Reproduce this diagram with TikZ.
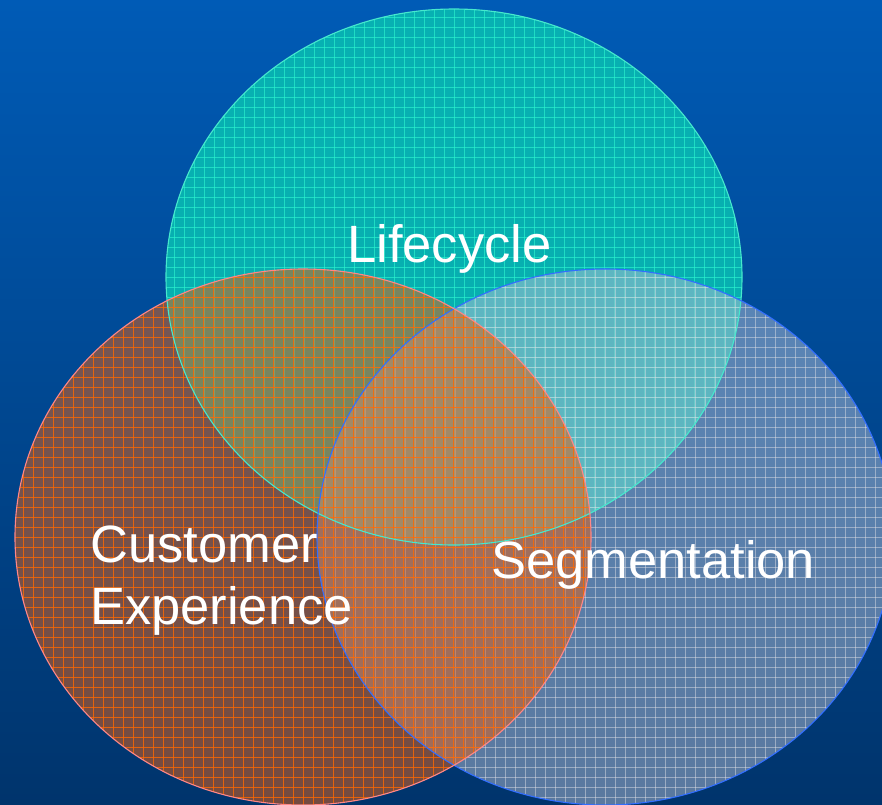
\documentclass[tikz,border=0pt]{standalone}
\usepackage{fontspec}
\setmainfont{Liberation Sans}
\definecolor{bgtop}{RGB}{0,91,182}
\definecolor{bgbot}{RGB}{0,52,108}
\definecolor{lifefill}{RGB}{8,184,178}
\definecolor{lifegrid}{RGB}{40,240,205}
\definecolor{lifeedge}{RGB}{70,232,205}
\definecolor{segfill}{RGB}{180,190,210}
\definecolor{seggrid}{RGB}{220,222,228}
\definecolor{segedge}{RGB}{50,110,255}
\definecolor{cxfill}{RGB}{225,96,24}
\definecolor{cxgrid}{RGB}{255,104,0}
\definecolor{cxedge}{RGB}{255,135,135}
% one set of the diagram: tinted ellipse with a grid texture inside
% #1,#2 centre; #3 fill colour; #4 fill opacity; #5 grid colour; #6 grid opacity
% grid lines are centred on half units, so each covers one pixel column or row
\newcommand\vennset[6]{%
  \fill[#3, fill opacity=#4] (#1,#2) ellipse [x radius=288, y radius=268];
  \begin{scope}
    \clip (#1,#2) ellipse [x radius=288, y radius=268];
    \foreach \k in {0,...,58} {
      \draw[#5, draw opacity=#6, line width=1.4] ({#1-289.5+10*\k},{#2-270}) -- ++(0,540);
      \draw[#5, draw opacity=#6, line width=1.4] ({#1-290},{#2-269.5+10*\k}) -- ++(580,0);
    }
  \end{scope}
}
\tikzset{
  lbl/.style={text=white, inner sep=0pt, font=\fontsize{52.5}{62}\selectfont},
  rim/.style={line width=1.1},
}
\begin{document}
\begin{tikzpicture}[x=1pt,y=-1pt]
  \useasboundingbox (0,0) rectangle (882,804);
  \clip (0,0) rectangle (882,804);
  \shade[top color=bgtop, bottom color=bgbot] (0,0) rectangle (882,804);

  % the three sets, bottom to top
  \vennset{454}{277}{lifefill}{0.92}{lifegrid}{0.7}
  \vennset{605}{537}{segfill}{0.5}{seggrid}{0.5}
  \vennset{303}{537}{cxfill}{0.52}{cxgrid}{0.8}

  % outlines
  \draw[rim, lifeedge] (454,277) ellipse [x radius=288, y radius=268];
  \draw[rim, segedge] (605,537) ellipse [x radius=288, y radius=268];
  \draw[rim, cxedge] (303,537) ellipse [x radius=288, y radius=268];

  % labels (the two-line label sits on the baseline of its last line)
  \node[lbl, anchor=base west] (life) at (347,262) {Lifecycle};
  \node[lbl, anchor=base west, align=left] (cx) at (90,624) {Customer\\Experience};
  \node[lbl, anchor=base west] (seg) at (491,578) {Segmentation};
\end{tikzpicture}
\end{document}
